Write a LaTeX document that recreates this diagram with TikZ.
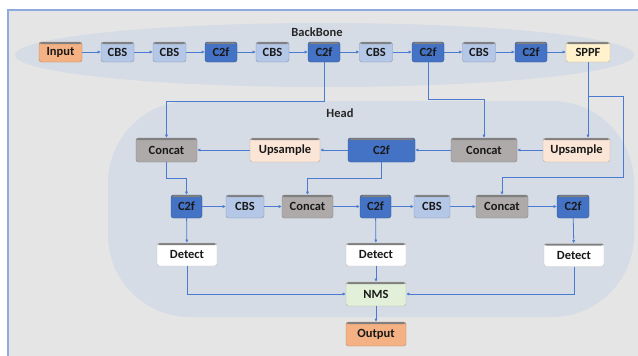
\documentclass[tikz,border=0pt]{standalone}
\usepackage{fontspec}
\setmainfont{Carlito}
\usetikzlibrary{arrows.meta,calc}

\definecolor{pagebg}{HTML}{E5E5E5}
\definecolor{regionbg}{HTML}{D6DCE5}
\definecolor{framec}{HTML}{8FAADC}
\definecolor{linec}{HTML}{4A7BD0}
\definecolor{inputc}{HTML}{F4B183}
\definecolor{cbsc}{HTML}{B4C7E7}
\definecolor{c2fc}{HTML}{4472C4}
\definecolor{sppfc}{HTML}{FFF2CC}
\definecolor{concatc}{HTML}{AEAAAA}
\definecolor{upc}{HTML}{FBE5D6}
\definecolor{nmsc}{HTML}{E2F0D9}

\tikzset{
  blk/.style={rounded corners=2.5pt, inner sep=0pt, fill=#1, draw=#1!75!black,
    line width=0.4pt, text=black!90,
    font=\fontsize{12.5}{12.5}\selectfont\bfseries,
    path picture={\fill[black!50]
      (path picture bounding box.north west) rectangle
      ([yshift=-2pt]path picture bounding box.north east);}},
  bbsize/.style n args={2}{minimum width=#1pt, minimum height=#2pt},
  arr/.style={draw=linec, line width=0.8pt, -{Latex[length=3.2pt,width=3.2pt]}},
  title/.style={font=\fontsize{12.5}{12.5}\selectfont\bfseries, text=black!85},
}

\begin{document}
\begin{tikzpicture}[x=1pt,y=-1pt]
\useasboundingbox (0,0) rectangle (638,356);
\fill[white] (0,0) rectangle (638,356);
% page panel and its border
\fill[pagebg] (8,10) rectangle (642,360);
\draw[framec, line width=1.2pt] (642,10) -- (8,10) -- (8,360);

% backbone and head regions
\fill[regionbg] (324.5,55) ellipse [x radius=309.5, y radius=32];
\fill[regionbg, rounded corners=82pt] (108,101) rectangle (634,317);

\node[title] (tbb) at (317,32) {BackBone};
\node[title] (thd) at (340,113) {Head};

% backbone chain
\node[blk=inputc, bbsize={43}{20}] (b1) at (60.5,52) {Input};
\node[blk=cbsc,   bbsize={33}{20}] (b2) at (117.5,52) {CBS};
\node[blk=cbsc,   bbsize={33}{20}] (b3) at (169.5,52) {CBS};
\node[blk=c2fc,   bbsize={32}{20}] (b4) at (221,52) {C2f};
\node[blk=cbsc,   bbsize={33}{20}] (b5) at (272.5,52) {CBS};
\node[blk=c2fc,   bbsize={32}{20}] (b6) at (324,52) {C2f};
\node[blk=cbsc,   bbsize={33}{20}] (b7) at (376,52) {CBS};
\node[blk=c2fc,   bbsize={32}{20}] (b8) at (428,52) {C2f};
\node[blk=cbsc,   bbsize={33}{20}] (b9) at (479,52) {CBS};
\node[blk=c2fc,   bbsize={32}{20}] (b10) at (531,52) {C2f};
\node[blk=sppfc,  bbsize={44}{20}] (b11) at (588,52) {SPPF};

\foreach \a/\b in {b1/b2,b2/b3,b3/b4,b4/b5,b5/b6,b6/b7,b7/b8,b8/b9,b9/b10,b10/b11}
  \draw[arr] (\a) -- (\b);

% head, upper row
\node[blk=concatc, bbsize={61}{24}] (h1) at (166.5,150) {Concat};
\node[blk=upc,     bbsize={70}{24}] (h2) at (285,150) {Upsample};
\node[blk=c2fc,    bbsize={67}{24}] (h3) at (381.5,150) {C2f};
\node[blk=concatc, bbsize={66}{24}] (h4) at (484,150) {Concat};
\node[blk=upc,     bbsize={67}{24}] (h5) at (576.5,150) {Upsample};

\draw[arr] (h5) -- (h4);
\draw[arr] (h4) -- (h3);
\draw[arr] (h3) -- (h2);
\draw[arr] (h2) -- (h1);

% head, lower row
\node[blk=c2fc,    bbsize={31}{23}] (m1) at (186.5,206.5) {C2f};
\node[blk=cbsc,    bbsize={38}{23}] (m2) at (245,206.5) {CBS};
\node[blk=concatc, bbsize={51}{23}] (m3) at (307.5,206.5) {Concat};
\node[blk=c2fc,    bbsize={31}{23}] (m4) at (375.5,206.5) {C2f};
\node[blk=cbsc,    bbsize={36}{23}] (m5) at (432,206.5) {CBS};
\node[blk=concatc, bbsize={52}{23}] (m6) at (502,206.5) {Concat};
\node[blk=c2fc,    bbsize={32}{23}] (m7) at (573,206.5) {C2f};

\foreach \a/\b in {m1/m2,m2/m3,m3/m4,m4/m5,m5/m6,m6/m7}
  \draw[arr] (\a) -- (\b);

% detection heads and post-processing
\node[blk=white, bbsize={60}{23}] (d1) at (187,254.5) {Detect};
\node[blk=white, bbsize={60}{23}] (d2) at (376,254.5) {Detect};
\node[blk=white, bbsize={60}{23}] (d3) at (574,255) {Detect};
\node[blk=nmsc,  bbsize={60}{24}] (nms) at (376,294) {NMS};
\node[blk=inputc, bbsize={60}{24}] (out) at (376,334) {Output};

% bus levels for the routed connectors
\coordinate (yA) at (0,101);
\coordinate (yB) at (0,99.5);
\coordinate (yC) at (0,96);
\coordinate (yD) at (0,177);
\coordinate (yE) at (0,178);
\coordinate (xR) at (623,0);

% backbone taps into the head
\draw[arr] (b6.south) -- (b6.south |- yA) -| (h1.north);
\draw[arr] (b8.south) -- (b8.south |- yB) -| (h4.north);
\draw[arr] (b11.south) -- (b11.south |- h5.north);
\draw[arr] (b11.south |- yC) -- (xR |- yC) -- (xR |- yD) -| (m6.north);

% upper row down to lower row
\draw[arr] (h1.south) -- (h1.south |- yE) -| (m1.north);
\draw[arr] (h3.south) -- (h3.south |- yE) -| (m3.north);

% lower row to detection heads
\draw[arr] (m1) -- (d1);
\draw[arr] (m4) -- (d2);
\draw[arr] (m7) -- (d3);

% detection heads into NMS
\draw[arr] (d1.south) |- (nms.west);
\draw[arr] (d2) -- (nms);
\draw[arr] (d3.south) |- (nms.east);
\draw[arr] (nms) -- (out);
\end{tikzpicture}
\end{document}
